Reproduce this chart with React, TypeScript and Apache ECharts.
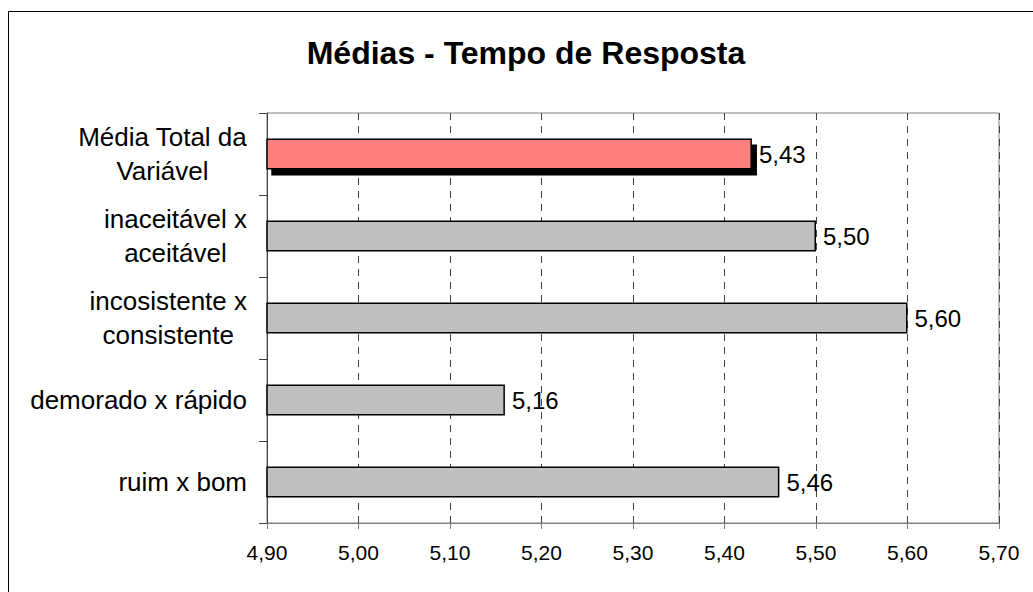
import React, { useEffect, useRef } from "react";
import * as echarts from "echarts";

const categories = [
  "Média Total da\nVariável",
  "inaceitável x\naceitável",
  "incosistente x\nconsistente",
  "demorado x rápido",
  "ruim x bom",
];
const values = [5.43, 5.5, 5.6, 5.16, 5.46];
const barColors = ["#FF8080", "#C0C0C0", "#C0C0C0", "#C0C0C0", "#C0C0C0"];
const xMin = 4.9;
const xMax = 5.7;
const xStep = 0.1;
const titleText = "Médias - Tempo de Resposta";

const FONT = "'Liberation Sans', Arial, Helvetica, sans-serif";
const fmt = (v: number) => v.toFixed(2).replace(".", ",");

export default function App() {
  const ref = useRef<HTMLDivElement>(null);
  useEffect(() => {
    if (!ref.current) return;
    const chart = echarts.init(ref.current, null, { renderer: "svg" });
    chart.setOption({
      animation: false,
      backgroundColor: "#ffffff",
      textStyle: { fontFamily: FONT },
      graphic: [
        {
          type: "rect",
          shape: { x: 8.5, y: 11.5, width: 1040, height: 600 },
          style: { fill: "none", stroke: "#000", lineWidth: 1 },
          silent: true,
        },
        {
          type: "text",
          x: 526,
          y: 52.5,
          style: {
            text: titleText,
            fontFamily: FONT,
            fontSize: 32,
            fontWeight: "bold",
            fill: "#000",
            align: "center",
            verticalAlign: "middle",
          },
        },
      ],
      grid: {
        left: 267,
        top: 113,
        right: 34,
        bottom: 69,
        show: true,
        borderColor: "#808080",
        borderWidth: 1,
        backgroundColor: "transparent",
        outerBoundsMode: "none",
      },
      xAxis: {
        type: "value",
        min: xMin,
        max: xMax,
        interval: xStep,
        axisLine: { show: true, lineStyle: { color: "#808080", width: 1 } },
        axisTick: { show: true, length: 6, lineStyle: { color: "#808080" } },
        axisLabel: {
          formatter: (v: number) => fmt(v),
          fontSize: 21,
          color: "#000",
          margin: 19,
          fontFamily: FONT,
        },
        splitLine: {
          show: true,
          lineStyle: { color: "#444", width: 1, type: [7, 6] },
        },
      },
      yAxis: {
        type: "category",
        data: categories,
        inverse: true,
        axisLine: { show: true, lineStyle: { color: "#404040", width: 1 } },
        axisTick: { show: true, length: 8, lineStyle: { color: "#404040" } },
        axisLabel: {
          margin: 20,
          align: "right",
          color: "#000",
          fontSize: 26,
          fontFamily: FONT,
          formatter: (s: string) =>
            s
              .split("\n")
              .map((l) => `{c|${l}}`)
              .join("\n"),
          rich: {
            c: {
              align: "center",
              fontSize: 26,
              lineHeight: 34,
              color: "#000",
              fontFamily: FONT,
            },
          },
        },
        splitLine: { show: false },
      },
      series: [
        {
          type: "bar",
          barWidth: 31,
          data: values.map((v, i) => ({
            value: v,
            itemStyle: {
              color: barColors[i],
              borderColor: "#000",
              borderWidth: 1.5,
              ...(i === 0
                ? {
                    shadowColor: "#000",
                    shadowBlur: 0,
                    shadowOffsetX: 5,
                    shadowOffsetY: 6,
                  }
                : {}),
            },
          })),
          label: {
            show: true,
            position: "right",
            distance: 7,
            fontSize: 24,
            color: "#000",
            fontFamily: FONT,
            formatter: (p: any) => fmt(p.value),
          },
        },
      ],
    });
    return () => chart.dispose();
  }, []);
  return (
    <div
      ref={ref}
      style={{ position: "absolute", left: 0, top: 0, width: 1033, height: 592 }}
    />
  );
}
